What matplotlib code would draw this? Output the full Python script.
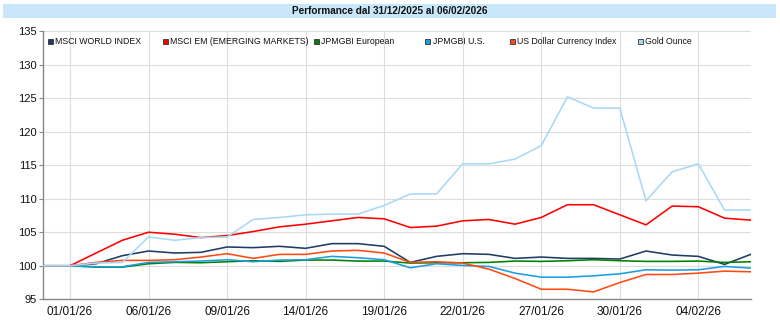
import matplotlib
matplotlib.use("Agg")
import matplotlib.pyplot as plt
from matplotlib.patches import Rectangle

dates = ["31/12/25", "01/01/26", "02/01/26", "05/01/26", "06/01/26", "07/01/26", "08/01/26",
         "09/01/26", "12/01/26", "13/01/26", "14/01/26", "15/01/26", "16/01/26", "19/01/26",
         "20/01/26", "21/01/26", "22/01/26", "23/01/26", "26/01/26", "27/01/26", "28/01/26",
         "29/01/26", "30/01/26", "02/02/26", "03/02/26", "04/02/26", "05/02/26", "06/02/26"]
tick_labels = ["01/01/26", "06/01/26", "09/01/26", "14/01/26", "19/01/26",
               "22/01/26", "27/01/26", "30/01/26", "04/02/26"]

msci_world = [100, 100, 100.3, 101.5, 102.2, 101.9, 102.0, 102.8, 102.7, 102.9, 102.6, 103.3, 103.3, 102.9,
              100.5, 101.4, 101.8, 101.7, 101.1, 101.3, 101.1, 101.1, 101.0, 102.2, 101.6, 101.4, 100.2, 101.7]
msci_em = [100, 100, 101.9, 103.8, 105.0, 104.7, 104.2, 104.5, 105.1, 105.8, 106.2, 106.7, 107.2, 107.0,
           105.7, 105.9, 106.7, 106.9, 106.2, 107.2, 109.1, 109.1, 107.6, 106.1, 108.9, 108.8, 107.1, 106.8]
jpm_eur = [100, 100, 99.8, 99.8, 100.3, 100.5, 100.45, 100.6, 100.75, 100.65, 100.85, 100.85, 100.7, 100.7,
           100.4, 100.45, 100.45, 100.5, 100.7, 100.65, 100.75, 100.9, 100.75, 100.65, 100.65, 100.7, 100.5, 100.6]
jpm_us = [100, 100, 99.85, 99.85, 100.5, 100.6, 100.7, 100.9, 100.6, 100.85, 100.9, 101.4, 101.2, 100.9,
          99.7, 100.3, 100.05, 99.9, 98.9, 98.3, 98.3, 98.5, 98.8, 99.4, 99.35, 99.4, 99.9, 99.65]
usd_index = [100, 100, 100.5, 100.8, 100.8, 100.9, 101.3, 101.8, 101.1, 101.7, 101.7, 102.2, 102.3, 101.9,
             100.5, 100.6, 100.4, 99.5, 98.1, 96.5, 96.5, 96.1, 97.5, 98.7, 98.7, 98.9, 99.2, 99.1]
gold = [100, 100, 100.4, 100.5, 104.3, 103.8, 104.2, 104.3, 106.9, 107.2, 107.6, 107.7, 107.7, 109.0,
        110.7, 110.7, 115.2, 115.2, 115.9, 117.9, 125.2, 123.5, 123.5, 109.7, 114.0, 115.2, 108.3, 108.3]

series_names = ["MSCI WORLD INDEX", "MSCI EM (EMERGING MARKETS)", "JPMGBI European",
                "JPMGBI U.S.", "US Dollar Currency Index", "Gold Ounce"]
series_values = [msci_world, msci_em, jpm_eur, jpm_us, usd_index, gold]
colors = ["#1f3b66", "#ff0000", "#008000", "#1e9ee0", "#ff4a14", "#a8d8f8"]
y_ticks = [95, 100, 105, 110, 115, 120, 125, 130, 135]
title = "Performance dal 31/12/2025 al 06/02/2026"

plt.rcParams['font.family'] = ['Liberation Sans', 'DejaVu Sans']

W, H = 780, 328
fig = plt.figure(figsize=(W / 100, H / 100), dpi=100)

# title band
fig.patches.append(Rectangle((3 / W, 1 - 18 / H), 773 / W, 14 / H, transform=fig.transFigure,
                             facecolor="#c9e7fa", edgecolor="none", zorder=0))
fig.text(0.5, 1 - 11 / H, title, ha="center", va="center", fontsize=7.2,
         fontweight="bold", color="#111111")

ax = fig.add_axes([43 / W, 1 - 299.3 / H, (750.7 - 43) / W, (299.3 - 31) / H])
x = list(range(len(dates)))
for vals, c in zip(series_values, colors):
    ax.plot(x, vals, color=c, lw=1.15, solid_joinstyle="round", zorder=3)

ax.set_xlim(-0.03, len(dates) - 1)
ax.set_ylim(95, 135)
ax.set_yticks(y_ticks)
ax.set_yticklabels([str(v) for v in y_ticks])
tick_pos = [dates.index(t) for t in tick_labels]
ax.set_xticks(tick_pos)
ax.set_xticklabels(tick_labels)
ax.grid(True, color="#dddddd", lw=0.8, zorder=0)
ax.set_axisbelow(True)
for s in ["top", "right"]:
    ax.spines[s].set_visible(False)
for s in ["left", "bottom"]:
    ax.spines[s].set_color("#888888")
    ax.spines[s].set_linewidth(1.0)
ax.tick_params(axis="y", length=3, color="#888888", labelsize=8, pad=1.5, labelcolor="#111111")
ax.tick_params(axis="x", length=0, labelsize=8.5, pad=5, labelcolor="#111111")

# manual legend
leg_x = [50, 165, 316, 428, 512, 640]
leg_y = 1 - 41.5 / H
for px, name, c in zip(leg_x, series_names, colors):
    fig.patches.append(Rectangle(((px - 2.5) / W, leg_y - 2.5 / H), 5 / W, 5 / H,
                                 transform=fig.transFigure, facecolor=c,
                                 edgecolor="#333333", lw=0.6, zorder=5))
    fig.text((px + 5) / W, leg_y, name, ha="left", va="center", fontsize=6.3,
             family=['Liberation Sans Narrow', 'Liberation Sans'], color="#111111",
             zorder=5)

fig.savefig("out.png", dpi=100)
